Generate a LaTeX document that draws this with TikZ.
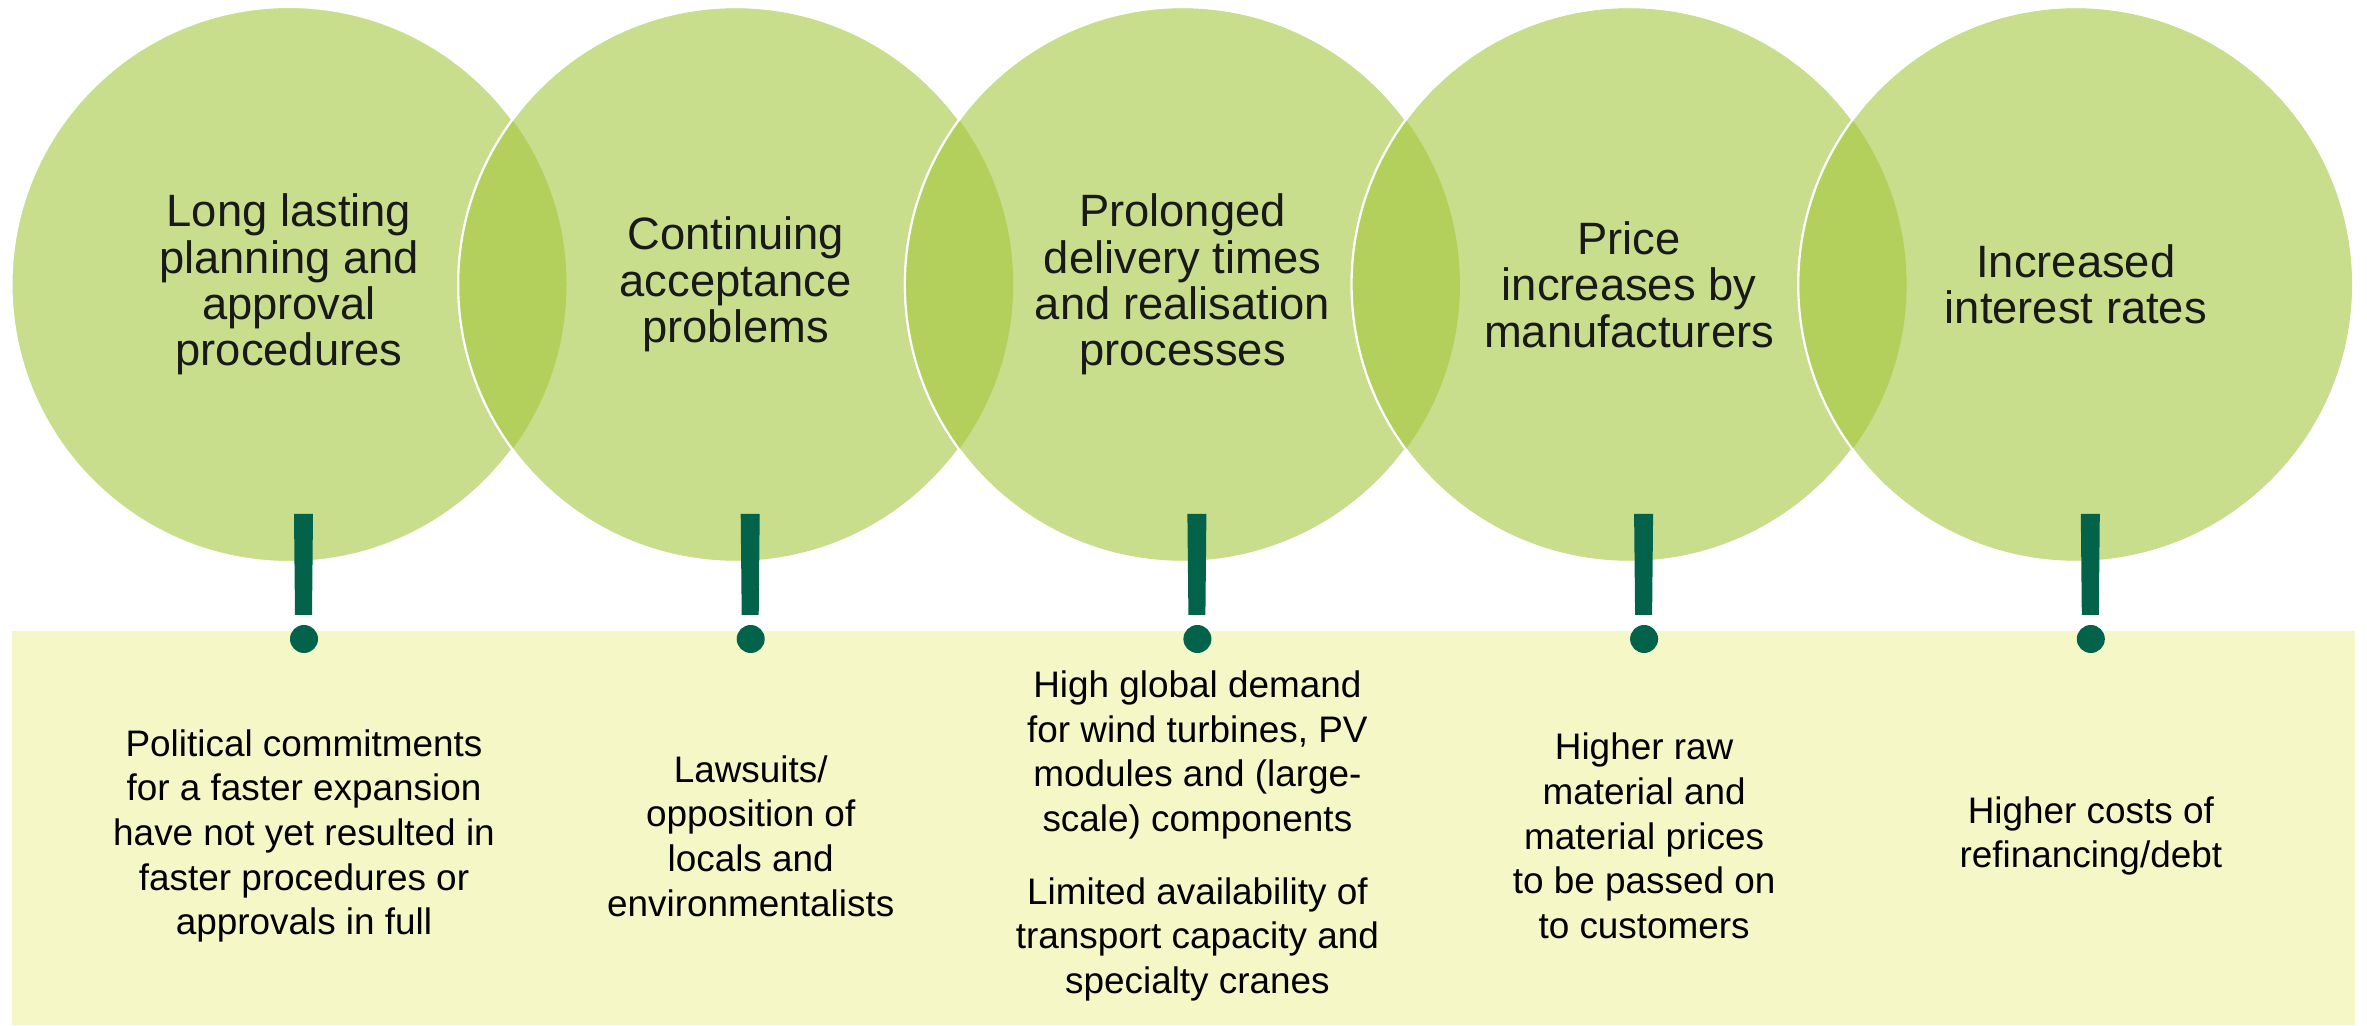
\documentclass[tikz,border=0pt]{standalone}
\usepackage{fontspec}
\setmainfont{Liberation Sans}
\usepackage{tikz}
\usetikzlibrary{calc}

\definecolor{leaf}{HTML}{C8DE8C}
\definecolor{lensgreen}{HTML}{B2D05B}
\definecolor{paper}{HTML}{F5F7C7}
\definecolor{pine}{HTML}{03634A}

\newcommand{\rad}{2.775}
\newcommand{\lensfill}[2]{%
  \begin{scope}
    \clip (#1.center) circle (\rad);
    \fill[lensgreen] (#2.center) circle (\rad);
  \end{scope}
  \draw[white, line width=0.6pt] (#2.center) circle (\rad);}
\newcommand{\bang}[1]{%
  \fill[pine] ($(#1)+(-0.10,1.25)$) -- ++(0.19,0) -- ++(-0.01,-1.01) -- ++(-0.17,0) -- cycle;}

\tikzset{
  bubble/.style={circle, fill=leaf, draw=white, line width=0.6pt, minimum size=5.55cm, inner sep=0pt,
    align=center, text=black!90, font=\fontsize{12.9}{13.2}\selectfont},
  note/.style={align=center, font=\fontsize{10.5}{12.7}\selectfont},
  dot/.style={circle, fill=pine, minimum size=0.28cm, inner sep=0pt},
}

\begin{document}
\begin{tikzpicture}
    \useasboundingbox (0,0) rectangle (23.67,-10.26);

    % lower panel
    \node (panel) at (11.835,-8.28) [fill=paper, minimum width=23.43cm, minimum height=3.94cm, inner sep=0pt] {};

    % circles
    \node (c1) at (2.89,-2.845) [bubble] {Long lasting\\planning and\\approval\\procedures};
    \node (c2) at (7.357,-2.845) [bubble] {Continuing\\acceptance\\problems};
    \lensfill{c1}{c2}
    \node (c3) at (11.824,-2.845) [bubble] {Prolonged\\delivery times\\and realisation\\processes};
    \lensfill{c2}{c3}
    \node (c4) at (16.291,-2.845) [bubble] {Price\\increases by\\manufacturers};
    \lensfill{c3}{c4}
    \node (c5) at (20.758,-2.845) [bubble] {Increased\\interest rates};
    \lensfill{c4}{c5}

    % exclamation marks
    \node (d1) at ($(c1)+(0.15,-3.545)$) [dot] {};
    \node (d2) at ($(c2)+(0.15,-3.545)$) [dot] {};
    \node (d3) at ($(c3)+(0.15,-3.545)$) [dot] {};
    \node (d4) at ($(c4)+(0.15,-3.545)$) [dot] {};
    \node (d5) at ($(c5)+(0.15,-3.545)$) [dot] {};
    \bang{d1} \bang{d2} \bang{d3} \bang{d4} \bang{d5}

    % notes
    \node (n1) at ($(d1)+(0,-1.97)$) [note] {Political commitments\\for a faster expansion\\have not yet resulted in\\faster procedures or\\approvals in full};
    \node (n2) at ($(d2)+(0,-1.97)$) [note] {Lawsuits/\\opposition of\\locals and\\environmentalists};
    \node (n3) at ($(d3)+(0,-1.97)$) [note] {High global demand\\for wind turbines, PV\\modules and (large-\\scale) components\\[8pt]Limited availability of\\transport capacity and\\specialty cranes};
    \node (n4) at ($(d4)+(0,-1.97)$) [note] {Higher raw\\material and\\material prices\\to be passed on\\to customers};
    \node (n5) at ($(d5)+(0,-1.97)$) [note] {Higher costs of\\refinancing/debt};
\end{tikzpicture}
\end{document}
